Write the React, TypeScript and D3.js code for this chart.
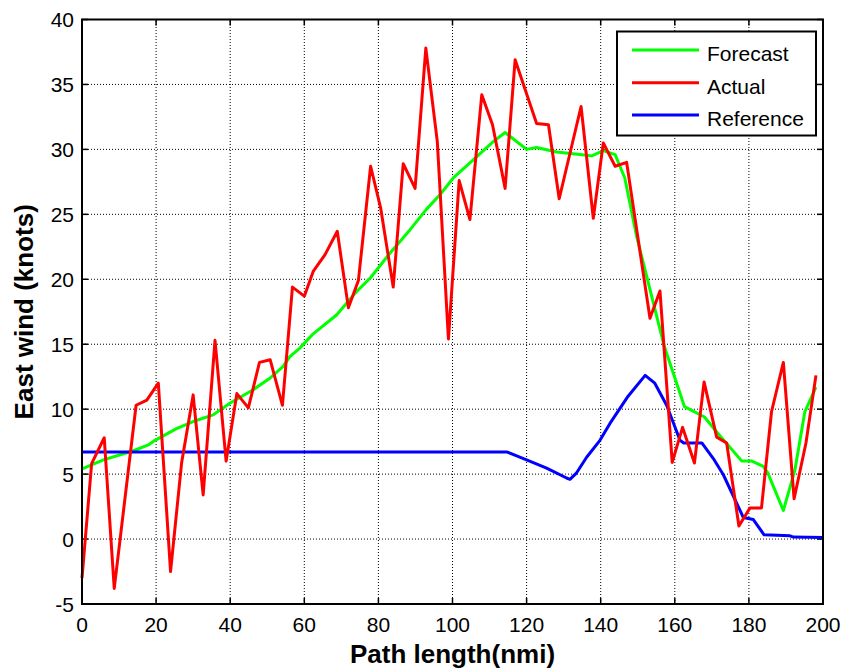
import React, { useEffect, useRef } from "react";
import * as d3 from "d3";

const xTicks = [0, 20, 40, 60, 80, 100, 120, 140, 160, 180, 200];
const yTicks = [-5, 0, 5, 10, 15, 20, 25, 30, 35, 40];

const actualX = [0, 2.6, 6, 8.7, 14.6, 17.5, 20.6, 23.9, 26.9, 30.0, 32.7, 35.9, 38.9, 41.8, 44.9, 47.9, 50.8, 54.1, 56.8, 60, 62.4, 65.6, 68.9, 71.9, 74.6, 77.9, 80.6, 84, 86.7, 89.9, 92.8, 95.9, 98.9, 101.8, 104.7, 107.9, 110.8, 114.2, 116.9, 122.7, 125.9, 128.8, 134.7, 138, 140.7, 143.9, 147, 153.3, 156, 159.3, 162.1, 165.3, 167.9, 171.3, 174, 177.3, 180.3, 183.4, 186.1, 189.3, 192.2, 195.4, 198.1];
const actualY = [-3.0, 5.8, 7.8, -3.8, 10.3, 10.7, 12.0, -2.5, 5.9, 11.1, 3.4, 15.3, 6.0, 11.2, 10.1, 13.6, 13.8, 10.3, 19.4, 18.7, 20.6, 21.9, 23.7, 17.8, 19.9, 28.7, 25.5, 19.4, 28.9, 27.0, 37.8, 30.6, 15.4, 27.6, 24.6, 34.2, 31.9, 27.0, 36.9, 32.0, 31.9, 26.2, 33.3, 24.7, 30.5, 28.7, 29.0, 17.0, 19.1, 5.9, 8.6, 5.85, 12.1, 7.85, 7.4, 1.0, 2.4, 2.4, 9.8, 13.6, 3.1, 7.4, 12.6];

const forecastX = [0, 5.8, 13.9, 17.9, 19.7, 25.5, 30, 35.4, 39.9, 46.2, 50.8, 54.3, 56.1, 58.8, 62.4, 68.7, 74.1, 77.8, 83.1, 88.5, 93, 96.6, 100.2, 105.6, 111, 114.2, 120, 122.7, 128.1, 134.4, 137.6, 140.7, 143.9, 146.5, 149.7, 157.2, 162.6, 168, 171.6, 178.1, 180.8, 183.9, 185.1, 189.3, 192.4, 195.1, 198.1];
const forecastY = [5.4, 6.1, 6.8, 7.25, 7.6, 8.5, 9.05, 9.56, 10.46, 11.5, 12.4, 13.3, 14.05, 14.7, 15.8, 17.25, 19.05, 20.1, 22.0, 23.8, 25.4, 26.5, 27.8, 29.2, 30.6, 31.3, 30.0, 30.15, 29.8, 29.6, 29.5, 29.9, 29.6, 27.8, 23.3, 14.8, 10.2, 9.4, 8.15, 6.0, 6.0, 5.6, 5.1, 2.2, 5.3, 9.8, 11.7];

const referenceX = [0, 114.8, 120, 125.4, 130.8, 131.7, 133.5, 136.2, 139.8, 142.5, 147.4, 152, 154.6, 157.8, 161.4, 162.4, 167.3, 170.4, 173.1, 178.5, 181.2, 184.1, 191.1, 192, 200];
const referenceY = [6.7, 6.7, 6.1, 5.46, 4.7, 4.6, 5.1, 6.3, 7.6, 8.9, 11.0, 12.6, 12.0, 10.3, 7.6, 7.4, 7.4, 6.2, 4.95, 1.66, 1.5, 0.33, 0.25, 0.15, 0.12];

const seriesNames = ["Forecast", "Actual", "Reference"];
const seriesColors = ["#00ff00", "#ff0000", "#0000ff"];

const W = 847;
const H = 671;
const M = { left: 82, right: 24, top: 19.5, bottom: 67 };

export default function App() {
  const ref = useRef<SVGSVGElement>(null);

  useEffect(() => {
    const svg = d3.select(ref.current);
    svg.selectAll("*").remove();
    const x = d3.scaleLinear().domain([0, 200]).range([M.left, W - M.right]);
    const y = d3.scaleLinear().domain([-5, 40]).range([H - M.bottom, M.top]);
    const font = "'Liberation Sans', Arial, sans-serif";

    svg.append("rect").attr("width", W).attr("height", H).attr("fill", "#fff");

    const grid = svg.append("g");
    xTicks.forEach((t) => {
      grid.append("line").attr("x1", x(t)).attr("x2", x(t)).attr("y1", y(-5)).attr("y2", y(40))
        .attr("stroke", "#000").attr("stroke-width", 1).attr("stroke-dasharray", "1,2");
    });
    yTicks.forEach((t) => {
      grid.append("line").attr("x1", x(0)).attr("x2", x(200)).attr("y1", y(t)).attr("y2", y(t))
        .attr("stroke", "#000").attr("stroke-width", 1).attr("stroke-dasharray", "1,2");
    });

    // ticks inward on all sides
    const tl = 6;
    xTicks.forEach((t) => {
      svg.append("line").attr("x1", x(t)).attr("x2", x(t)).attr("y1", y(-5)).attr("y2", y(-5) - tl).attr("stroke", "#000").attr("stroke-width", 1.5);
      svg.append("line").attr("x1", x(t)).attr("x2", x(t)).attr("y1", y(40)).attr("y2", y(40) + tl).attr("stroke", "#000").attr("stroke-width", 1.5);
      svg.append("text").attr("x", x(t)).attr("y", 632).attr("text-anchor", "middle")
        .attr("font-family", font).attr("font-size", 21).attr("fill", "#000").text(String(t));
    });
    yTicks.forEach((t) => {
      svg.append("line").attr("x1", x(0)).attr("x2", x(0) + tl).attr("y1", y(t)).attr("y2", y(t)).attr("stroke", "#000").attr("stroke-width", 1.5);
      svg.append("line").attr("x1", x(200)).attr("x2", x(200) - tl).attr("y1", y(t)).attr("y2", y(t)).attr("stroke", "#000").attr("stroke-width", 1.5);
      svg.append("text").attr("x", 74).attr("y", y(t) + 7.5).attr("text-anchor", "end")
        .attr("font-family", font).attr("font-size", 21).attr("fill", "#000").text(String(t));
    });

    const line = d3.line<[number, number]>().x((d) => x(d[0])).y((d) => y(d[1]));
    const data: [number, number][][] = [
      forecastX.map((v, i) => [v, forecastY[i]]),
      actualX.map((v, i) => [v, actualY[i]]),
      referenceX.map((v, i) => [v, referenceY[i]]),
    ];
    const order = [0, 2, 1];
    order.forEach((k) => {
      svg.append("path").attr("d", line(data[k]) as string).attr("fill", "none")
        .attr("stroke", seriesColors[k]).attr("stroke-width", 3).attr("stroke-linejoin", "round");
    });

    // frame
    svg.append("rect").attr("x", x(0)).attr("y", y(40)).attr("width", x(200) - x(0)).attr("height", y(-5) - y(40))
      .attr("fill", "none").attr("stroke", "#000").attr("stroke-width", 2);

    // legend
    const lg = svg.append("g");
    lg.append("rect").attr("x", 617).attr("y", 31.5).attr("width", 199).attr("height", 104)
      .attr("fill", "#fff").attr("stroke", "#000").attr("stroke-width", 2);
    const rows = [50, 82.7, 115];
    seriesNames.forEach((n, i) => {
      lg.append("line").attr("x1", 632).attr("x2", 699).attr("y1", rows[i]).attr("y2", rows[i])
        .attr("stroke", seriesColors[i]).attr("stroke-width", 3);
      lg.append("text").attr("x", 707).attr("y", rows[i] + 11).attr("font-family", font)
        .attr("font-size", 21).attr("fill", "#000").text(n);
    });

    // axis labels
    svg.append("text").attr("x", (x(0) + x(200)) / 2).attr("y", 663).attr("text-anchor", "middle")
      .attr("font-family", font).attr("font-weight", "bold").attr("font-size", 26).attr("fill", "#000")
      .text("Path length(nmi)");
    svg.append("text").attr("transform", `translate(33,${(y(-5) + y(40)) / 2}) rotate(-90)`)
      .attr("text-anchor", "middle").attr("font-family", font).attr("font-weight", "bold")
      .attr("font-size", 26).attr("fill", "#000").text("East wind (knots)");
  }, []);

  return (
    <svg ref={ref} width={W} height={H} style={{ position: "absolute", left: 0, top: 0, display: "block" }} />
  );
}
